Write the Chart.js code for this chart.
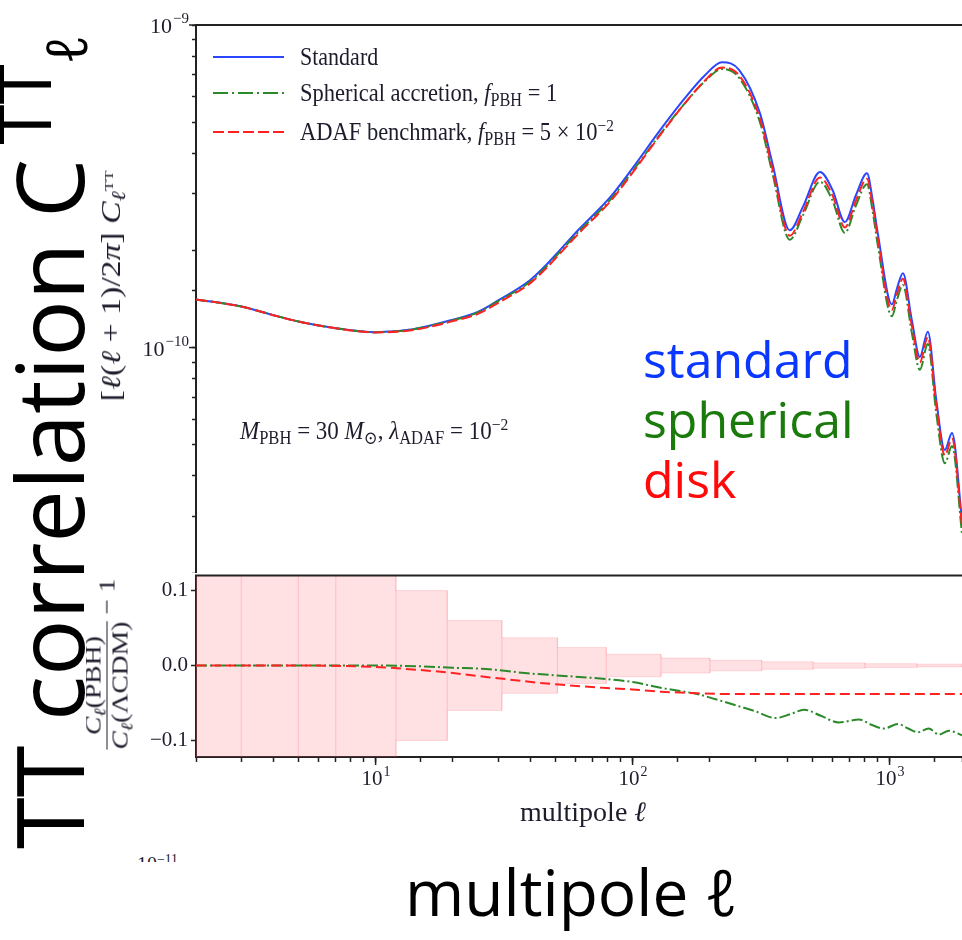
<!DOCTYPE html>
<html><head><meta charset="utf-8">
<script src="https://cdn.jsdelivr.net/npm/chart.js@4.4.1/dist/chart.umd.min.js"></script>
<style>
html,body{margin:0;padding:0;background:#fff;}
#wrap{position:relative;width:962px;height:940px;overflow:hidden;background:#fff;}
canvas{position:absolute;left:0;}
.abs{position:absolute;white-space:nowrap;}
.serif{font-family:"Liberation Serif","DejaVu Serif",serif;color:#1c1c2c;}
.big{font-family:"Comic Sans MS","Open Sans",sans-serif;}
sub{font-size:0.72em;vertical-align:-0.28em;line-height:0;}
sup{font-size:0.68em;vertical-align:0.5em;line-height:0;}
.white{position:absolute;background:#fff;}
</style></head>
<body><div id="wrap">
<canvas id="topc" width="962" height="573" style="top:0"></canvas>
<canvas id="botc" width="962" height="260" style="top:560px"></canvas>

<!-- legend -->
<svg class="abs" style="left:212px;top:45px" width="75" height="100">
  <line x1="1" y1="12" x2="72" y2="12" stroke="#2a46ff" stroke-width="2"/>
  <line x1="1" y1="48" x2="72" y2="48" stroke="#2a8a2a" stroke-width="2" stroke-dasharray="15 4 2 4"/>
  <line x1="1" y1="87" x2="72" y2="87" stroke="#ff2222" stroke-width="2" stroke-dasharray="11 4"/>
</svg>
<div class="abs serif" style="left:300px;top:45px;font-size:22px;line-height:24px;transform:scaleY(1.12);transform-origin:left center;">Standard</div>
<div class="abs serif" style="left:300px;top:81px;font-size:22.5px;line-height:24px;transform:scaleY(1.12);transform-origin:left center;">Spherical accretion, <i>f</i><sub>PBH</sub> = 1</div>
<div class="abs serif" style="left:300px;top:120px;font-size:22.5px;line-height:24px;transform:scaleY(1.12);transform-origin:left center;">ADAF benchmark, <i>f</i><sub>PBH</sub> = 5 × 10<sup>−2</sup></div>

<!-- annotation -->
<div class="abs serif" style="left:240px;top:419px;font-size:23px;line-height:24px;transform:scaleY(1.12);transform-origin:left center;"><i>M</i><sub>PBH</sub> = 30 <i>M</i><sub>⊙</sub>, <i>λ</i><sub>ADAF</sub> = 10<sup>−2</sup></div>

<!-- axis labels -->
<div class="abs serif" style="left:111px;top:286px;font-size:27px;line-height:28px;transform:translate(-50%,-50%) rotate(-90deg) scale(1.25,1);">[<i>ℓ</i>(<i>ℓ</i> + 1)/2<i>π</i>] <i>C</i><sub><i>ℓ</i></sub><sup style="font-size:0.5em">TT</sup></div>
<div class="abs serif" style="left:107px;top:664px;font-size:23px;line-height:24px;display:flex;align-items:center;transform:translate(-50%,-50%) rotate(-90deg) scale(1.2,1);">
  <span style="display:inline-flex;flex-direction:column;align-items:center;">
    <span style="padding-bottom:1px"><i>C</i><sub><i>ℓ</i></sub>(PBH)</span>
    <span style="border-top:1.5px solid #1c1c2c;padding-top:1px"><i>C</i><sub><i>ℓ</i></sub>(ΛCDM)</span>
  </span>
  <span>&nbsp;− 1</span>
</div>
<div class="abs serif" style="left:583px;top:812px;font-size:28px;line-height:30px;transform:translate(-50%,-50%);">multipole <i>ℓ</i></div>

<!-- cropped remnant -->
<div class="abs serif" style="left:137px;top:853px;font-size:20px;line-height:22px;">10<sup>−11</sup></div>

<!-- white cover boxes -->
<div class="white" style="left:0;top:0;width:86px;height:862px;"></div>
<div class="white" style="left:0;top:862px;width:962px;height:78px;"></div>

<!-- big overlay texts -->
<div class="abs big" style="left:48px;top:442px;font-size:94px;line-height:100px;color:#000;transform:translate(-50%,-50%) rotate(-90deg);">TT correlation C<sup style="font-size:0.78em;vertical-align:0.45em;margin-left:14px">TT</sup><sub style="font-size:0.6em;vertical-align:-0.05em">ℓ</sub></div>
<div class="abs big" style="left:643px;top:329px;font-size:50px;line-height:60px;color:#0a37ff;">standard</div>
<div class="abs big" style="left:643px;top:389px;font-size:50px;line-height:60px;color:#1a7a0c;">spherical</div>
<div class="abs big" style="left:643px;top:449px;font-size:50px;line-height:60px;color:#ff0a0a;">disk</div>
<div class="abs big" style="left:405px;top:857px;font-size:64px;line-height:70px;color:#000;">multipole ℓ</div>

</div>
<script>
// ---------- data ----------
// top panel: multipole and D_ell in units of 1e-10
const ellTop = [2,3,4,5,7,10,14,20,25,30,40,46,52,62,82,100,128,160,190,223,260,313,350,409,460,536,600,670,740,817,860,900,1021,1070,1127,1220,1312,1409,1520,1641,1750,1914];
const standardTop = [1.41,1.34,1.26,1.205,1.148,1.116,1.14,1.22,1.29,1.40,1.62,1.80,2.00,2.33,2.93,3.60,4.72,5.94,6.95,7.67,7.25,5.33,3.73,2.31,2.73,3.50,3.08,2.45,2.97,3.47,2.86,2.26,1.36,1.53,1.70,1.22,0.935,1.12,0.687,0.481,0.543,0.292];
const sphericalTop = [1.41,1.34,1.26,1.205,1.148,1.116,1.139,1.216,1.285,1.392,1.602,1.778,1.974,2.295,2.877,3.521,4.583,5.726,6.658,7.302,6.851,5.000,3.476,2.160,2.569,3.266,2.855,2.266,2.756,3.210,2.637,2.077,1.250,1.411,1.564,1.115,0.853,1.025,0.625,0.438,0.495,0.265];
const adafTop = [1.41,1.34,1.26,1.205,1.148,1.114,1.134,1.208,1.272,1.376,1.584,1.757,1.950,2.267,2.842,3.485,4.555,5.726,6.693,7.379,6.975,5.128,3.588,2.222,2.626,3.367,2.963,2.357,2.857,3.338,2.751,2.174,1.308,1.472,1.635,1.174,0.899,1.077,0.661,0.463,0.522,0.281];

// bottom panel: relative difference to LCDM
const ellRel = [2,5,10,15,20,25,30,38,50,79,100,130,153,178,241,300,361,410,465,540,635,760,850,950,1080,1180,1290,1420,1556,1703,1914];
const sphericalRel = [0,0,0,-0.001,-0.003,-0.004,-0.006,-0.010,-0.013,-0.018,-0.022,-0.030,-0.034,-0.038,-0.051,-0.061,-0.070,-0.065,-0.059,-0.067,-0.076,-0.072,-0.079,-0.084,-0.078,-0.084,-0.089,-0.084,-0.092,-0.087,-0.093];
const adafRel = [0,0,-0.002,-0.006,-0.010,-0.014,-0.017,-0.021,-0.025,-0.030,-0.032,-0.035,-0.036,-0.037,-0.038,-0.038,-0.038,-0.038,-0.038,-0.038,-0.038,-0.038,-0.038,-0.038,-0.038,-0.038,-0.038,-0.038,-0.038,-0.038,-0.038];

// cosmic-variance bins (edges and half-heights)
const binEdges = [2,3,5,7,12,19,31,51,79,129,200,318,504,802,1277,1914];
const binHalf = [0.63,0.40,0.29,0.17,0.100,0.060,0.037,0.024,0.015,0.010,0.007,0.005,0.0035,0.0025,0.0018];

// tick labels (powers of ten)
const xMajorTicks = [10,100,1000];
const xMajorExps = ['1','2','3'];
const yTopMajorTicks = [1,10];          // in units of 1e-10
const yTopMajorExps = ['−10','−9'];
const yBotTicks = [-0.1,0,0.1];

// ---------- helpers ----------
const C_BLUE = '#2a46ff', C_GREEN = '#2a8a2a', C_RED = '#ff2222';
const TXT = '#1c1c2c', AX = '#222';
const pts = (xs, ys) => xs.map((x,i)=>({x:x, y:ys[i]}));

const pow10Labels = {
  id:'pow10Labels',
  afterDraw(chart, args, o){
    const ctx = chart.ctx, a = chart.chartArea, s = chart.scales[o.axis];
    ctx.save();
    ctx.fillStyle = TXT; ctx.strokeStyle = AX; ctx.lineWidth = 1.5;
    ctx.textAlign = 'left'; ctx.textBaseline = 'alphabetic';
    o.values.forEach((v,i)=>{
      const p = s.getPixelForValue(v);
      ctx.font = o.baseFont; const wb = ctx.measureText('10').width;
      ctx.font = o.supFont; const we = ctx.measureText(o.exps[i]).width;
      let x0, yb;
      ctx.beginPath();
      if (o.axis === 'x') {
        x0 = p - (wb+we)/2; yb = a.bottom + o.offset;
        ctx.moveTo(p, a.bottom); ctx.lineTo(p, a.bottom + o.majorLen);
      } else {
        x0 = a.left - o.offset - wb - we; yb = p + o.baseShift;
        ctx.moveTo(a.left - o.majorLen, p); ctx.lineTo(a.left, p);
      }
      ctx.stroke();
      ctx.font = o.baseFont; ctx.fillText('10', x0, yb);
      ctx.font = o.supFont; ctx.fillText(o.exps[i], x0 + wb + 1, yb - o.supRise);
    });
    ctx.restore();
  }
};
const topSpine = {
  id:'topSpine',
  afterDraw(chart){
    const ctx = chart.ctx, a = chart.chartArea;
    ctx.save(); ctx.strokeStyle = AX; ctx.lineWidth = 2;
    ctx.beginPath(); ctx.moveTo(a.left-1, a.top); ctx.lineTo(a.right, a.top); ctx.stroke();
    ctx.restore();
  }
};

const lineDs = (label, data, color, dash, order) => ({
  label, data, borderColor:color, borderDash:dash, borderWidth:2,
  pointRadius:0, cubicInterpolationMode:'monotone', fill:false, order
});

// ---------- top chart ----------
new Chart(document.getElementById('topc'), {
  type:'line',
  data:{datasets:[
    lineDs('ADAF benchmark', pts(ellTop, adafTop), C_RED, [11,4], 0),
    lineDs('Spherical accretion', pts(ellTop, sphericalTop), C_GREEN, [12,3,2,3], 1),
    lineDs('Standard', pts(ellTop, standardTop), C_BLUE, [], 2)
  ]},
  options:{
    responsive:false, animation:false, devicePixelRatio:1,
    layout:{padding:{top:25,left:0,right:0,bottom:0}},
    plugins:{
      legend:{display:false}, tooltip:{enabled:false},
      pow10Labels:{axis:'y', values:yTopMajorTicks, exps:yTopMajorExps,
        baseFont:'22px "Liberation Serif"', supFont:'15px "Liberation Serif"',
        offset:8, baseShift:8, supRise:10, majorLen:7}
    },
    scales:{
      x:{type:'logarithmic', min:2, max:1914, display:false},
      y:{type:'logarithmic', min:0.2, max:10, position:'left',
        ticks:{display:false},
        grid:{drawOnChartArea:false, drawTicks:true, tickLength:4, tickColor:AX, tickWidth:1.5},
        border:{display:true, color:AX, width:2},
        afterFit(s){ s.width = 196; }
      }
    }
  },
  plugins:[pow10Labels, topSpine]
});

// ---------- bottom chart ----------
const upper = binEdges.map((e,i)=>({x:e, y: binHalf[Math.min(i, binHalf.length-1)]}));
const lower = binEdges.map((e,i)=>({x:e, y: -binHalf[Math.min(i, binHalf.length-1)]}));
const edges = [];
binEdges.forEach((e,i)=>{
  const h = Math.max(binHalf[i-1] || 0, binHalf[i] || 0);
  edges.push({x:e, y:-h}, {x:e, y:h}, {x:e, y:null});
});

new Chart(document.getElementById('botc'), {
  type:'line',
  data:{datasets:[
    lineDs('ADAF benchmark', pts(ellRel, adafRel), C_RED, [10,5], 0),
    lineDs('Spherical accretion', pts(ellRel, sphericalRel), C_GREEN, [11,3,2,3], 1),
    {label:'bin edges', data:edges, borderColor:'rgba(255,80,95,0.22)', borderWidth:1.2,
      pointRadius:0, spanGaps:false, fill:false, order:3},
    {label:'cosmic variance +', data:upper, stepped:'before', borderColor:'rgba(255,80,95,0.18)',
      borderWidth:1, pointRadius:0, fill:'+1', backgroundColor:'rgba(255,105,120,0.2)', order:4},
    {label:'cosmic variance -', data:lower, stepped:'before', borderColor:'rgba(255,80,95,0.18)',
      borderWidth:1, pointRadius:0, fill:false, order:5}
  ]},
  options:{
    responsive:false, animation:false, devicePixelRatio:1,
    layout:{padding:{top:13,left:0,right:0,bottom:0}},
    plugins:{
      legend:{display:false}, tooltip:{enabled:false},
      pow10Labels:{axis:'x', values:xMajorTicks, exps:xMajorExps,
        baseFont:'21px "Liberation Serif"', supFont:'14px "Liberation Serif"',
        offset:28, baseShift:0, supRise:9, majorLen:8}
    },
    scales:{
      x:{type:'logarithmic', min:2, max:1914, position:'bottom',
        ticks:{display:false},
        grid:{drawOnChartArea:false, drawTicks:true, tickLength:5, tickColor:AX, tickWidth:1.5},
        border:{display:true, color:AX, width:2},
        afterFit(s){ s.height = 63; }
      },
      y:{type:'linear', min:-0.122, max:0.12, position:'left',
        afterBuildTicks(s){ s.ticks = yBotTicks.map(v=>({value:v})); },
        ticks:{color:TXT, font:{family:'"Liberation Serif"', size:21}, padding:3,
          callback:(v)=> Math.abs(v)<1e-9 ? '0.0' : v.toFixed(1).replace('-', '−')},
        grid:{drawOnChartArea:false, drawTicks:true, tickLength:5, tickColor:AX, tickWidth:1.5},
        border:{display:true, color:AX, width:2},
        afterFit(s){ s.width = 196; }
      }
    }
  },
  plugins:[pow10Labels, topSpine]
});
</script>
</body></html>
